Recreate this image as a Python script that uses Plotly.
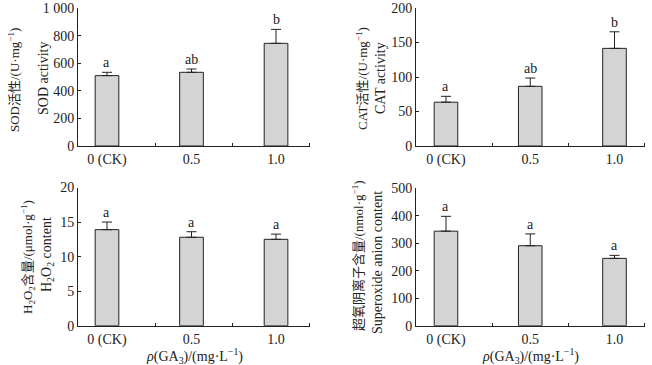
import plotly.graph_objects as go

categories = ["0 (CK)", "0.5", "1.0"]

sod_mean = [510, 534, 744]
sod_err = [24, 24, 101]
sod_letters = ["a", "ab", "b"]

cat_mean = [63.5, 86.5, 141.5]
cat_err = [8.5, 12, 24]
cat_letters = ["a", "ab", "b"]

h2o2_mean = [13.9, 12.8, 12.5]
h2o2_err = [1.1, 0.8, 0.75]
h2o2_letters = ["a", "a", "a"]

sa_mean = [344, 291, 245]
sa_err = [54, 43, 11]
sa_letters = ["a", "a", "a"]

y_ticks_sod = [0, 200, 400, 600, 800, 1000]
y_ticktext_sod = ["0", "200", "400", "600", "800", "1 000"]
y_ticks_cat = [0, 50, 100, 150, 200]
y_ticks_h2o2 = [0, 5, 10, 15, 20]
y_ticks_sa = [0, 100, 200, 300, 400, 500]

W, H = 652, 365
FONT = "Liberation Serif, Times New Roman, Noto Sans CJK SC, serif"
FS = 14
INK = "#222222"

def px(x):
    return x / W

def py(y):
    return 1 - y / H

fig = go.Figure()

panels = [
    (sod_mean, sod_err, sod_letters, [0, 1000], y_ticks_sod, y_ticktext_sod,
     (78, 310), (146, 8), (-0.343, 2.402)),
    (cat_mean, cat_err, cat_letters, [0, 200], y_ticks_cat, None,
     (416, 645), (146, 8), (-0.356, 2.362)),
    (h2o2_mean, h2o2_err, h2o2_letters, [0, 20], y_ticks_h2o2, None,
     (78, 310), (325.7, 187.5), (-0.343, 2.402)),
    (sa_mean, sa_err, sa_letters, [0, 500], y_ticks_sa, None,
     (416, 645), (325.7, 188.3), (-0.356, 2.362)),
]

xpos = [0, 1, 2]

for i, (mean, err, letters, yr, yt, ytt, xd, yd, xr) in enumerate(panels):
    n = "" if i == 0 else str(i + 1)
    xa, ya = "x" + n, "y" + n
    fig.add_trace(go.Bar(
        x=xpos, y=mean, width=0.28,
        marker=dict(color="#d4d4d4", line=dict(color=INK, width=1)),
        error_y=dict(type="data", symmetric=False, array=err,
                     arrayminus=[0] * len(err), color=INK,
                     thickness=1, width=5),
        xaxis=xa, yaxis=ya, showlegend=False, hoverinfo="skip",
    ))
    third = (xr[1] - xr[0]) / 3
    fig.update_layout({
        "xaxis" + n: dict(
            domain=[px(xd[0]), px(xd[1])], range=list(xr), anchor=ya,
            automargin=False,
            tickmode="array", tickvals=xpos, ticktext=categories,
            ticks="", showline=True, linecolor=INK, linewidth=1,
            showgrid=False, zeroline=False,
            tickfont=dict(family=FONT, size=FS, color=INK),
            minor=dict(tickmode="array",
                       tickvals=[xr[0] + third, xr[0] + 2 * third, xr[1] - 0.005],
                       ticks="inside", ticklen=3, tickcolor=INK,
                       showgrid=False),
            fixedrange=True,
        ),
        "yaxis" + n: dict(
            domain=[py(yd[0]), py(yd[1])], range=yr, anchor=xa,
            automargin=False,
            tickmode="array", tickvals=yt,
            ticktext=ytt if ytt else [str(v) for v in yt],
            ticks="inside", ticklen=3, tickcolor=INK,
            showline=True, linecolor=INK, linewidth=1,
            showgrid=False, zeroline=False,
            tickfont=dict(family=FONT, size=FS, color=INK),
            fixedrange=True,
        ),
    })
    for xv, m, e, lab in zip(xpos, mean, err, letters):
        fig.add_annotation(x=xv, y=m + e, xref=xa, yref=ya, text=lab,
                           showarrow=False, yanchor="bottom", yshift=0,
                           font=dict(family=FONT, size=FS, color=INK))

titles = [
    ("SOD活性/(U·mg<sup>−1</sup>)", 14, 80, 13),
    ("SOD activity", 43, 78, 14),
    ("CAT活性/(U·mg<sup>−1</sup>)", 362, 79, 13),
    ("CAT activity", 380, 78, 14),
    ("H<sub>2</sub>O<sub>2</sub>含量/(μmol·g<sup>−1</sup>)", 28, 257, 13),
    ("H<sub>2</sub>O<sub>2</sub> content", 47, 255, 14),
    ("超氧阴离子含量/(nmol·g<sup>−1</sup>)", 358, 256, 13),
    ("Superoxide anion content", 377, 263, 14),
]
for text, x, y, fs in titles:
    fig.add_annotation(x=px(x), y=py(y), xref="paper", yref="paper", text=text,
                       textangle=-90, showarrow=False, xanchor="center",
                       yanchor="middle",
                       font=dict(family=FONT, size=fs, color=INK))

for x in (194, 530):
    fig.add_annotation(x=px(x), y=py(356), xref="paper", yref="paper",
                       text="<i>ρ</i>(GA<sub>3</sub>)/(mg·L<sup>−1</sup>)",
                       showarrow=False, xanchor="center", yanchor="middle",
                       font=dict(family=FONT, size=FS, color=INK))

fig.update_layout(
    width=W, height=H, margin=dict(l=0, r=0, t=0, b=0),
    paper_bgcolor="white", plot_bgcolor="white",
    barmode="overlay",
)

fig.write_html("out.html",
               config={"displayModeBar": False},
               post_script="document.body.style.margin='0';")
